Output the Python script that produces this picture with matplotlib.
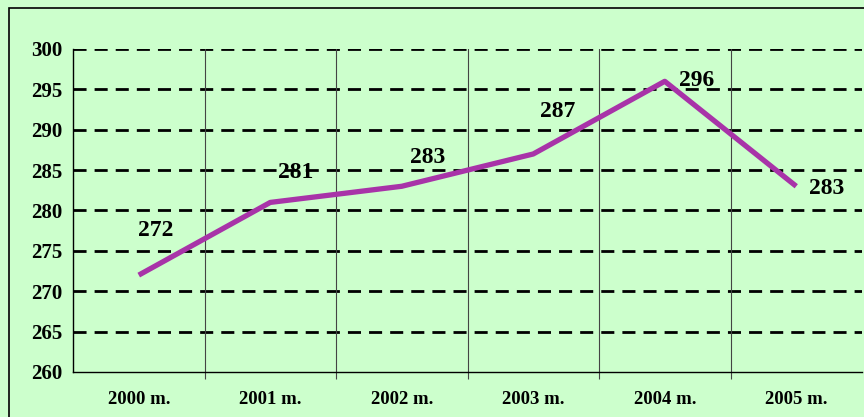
import matplotlib
matplotlib.use("Agg")
import matplotlib.pyplot as plt
from matplotlib.patches import Rectangle

years = ["2000 m.", "2001 m.", "2002 m.", "2003 m.", "2004 m.", "2005 m."]
values = [272, 281, 283, 287, 296, 283]
y_ticks = [260, 265, 270, 275, 280, 285, 290, 295, 300]
# label offsets in pixels (style)
label_offsets = [(17, 45), (25, 30), (26, 29), (24, 42), (32, 1), (30, -2)]

bg = "#CCFFCC"
fig = plt.figure(figsize=(8.64, 4.17), dpi=100, facecolor=bg)
ax = fig.add_axes([73/864, 1-372/417, (862-73)/864, (372-49)/417])
ax.set_facecolor(bg)

# figure border
fig.patches.append(Rectangle((9/864, -0.2), 1.2, 1 - 8/417 + 0.2,
                             transform=fig.transFigure, fill=False,
                             edgecolor="black", linewidth=1.2))

x = list(range(len(values)))
ax.set_xlim(-0.5, len(values) - 0.5)
ax.set_ylim(260, 300)

# horizontal dashed gridlines
for yv in y_ticks[1:]:
    ax.axhline(yv, color="black", linewidth=2, dashes=(4.7, 2.9), zorder=1)
# vertical gridlines at category boundaries
for b in [i + 0.5 for i in range(len(values) - 1)]:
    ax.axvline(b, color="#444444", linewidth=0.8, zorder=1)

ax.plot(x, values, color="#A833A8", linewidth=3.8, solid_capstyle="butt", zorder=3)

for xi, v, (dx, dy) in zip(x, values, label_offsets):
    ax.annotate(str(v), (xi, v), xytext=(dx, dy), textcoords="offset pixels",
                ha="center", va="center", fontsize=17, fontweight="bold",
                family="Liberation Serif", color="black", zorder=4)

ax.set_yticks(y_ticks)
ax.set_yticklabels([str(t) for t in y_ticks], fontsize=15, fontweight="bold",
                   family="Liberation Serif")
ax.tick_params(axis="y", length=0, pad=8)

ax.set_xticks([i + 0.5 for i in range(len(values) - 1)])
ax.set_xticklabels([])
ax.tick_params(axis="x", which="major", length=5, width=0.8, color="#444444", direction="out")
ax.set_xticks(x, minor=True)
ax.set_xticklabels(years, minor=True, fontsize=13.5, fontweight="bold",
                   family="Liberation Serif")
ax.tick_params(axis="x", which="minor", length=0, pad=14)

for s in ["top", "right"]:
    ax.spines[s].set_visible(False)
ax.spines["left"].set_linewidth(1)
ax.spines["bottom"].set_linewidth(1)

fig.savefig("out.png", dpi=100, facecolor=bg)
